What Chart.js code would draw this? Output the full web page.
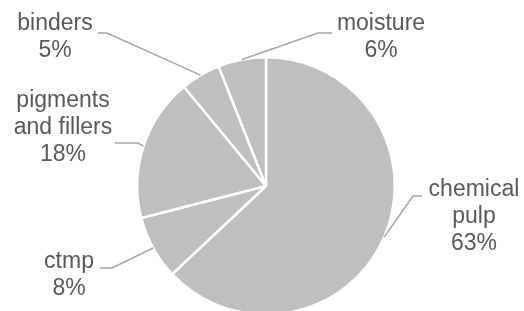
<!DOCTYPE html>
<html><head><meta charset="utf-8">
<script src="https://cdn.jsdelivr.net/npm/chart.js@4"></script>
<style>
html,body{margin:0;padding:0;background:#fff;overflow:hidden;}
#wrap{width:524px;height:316px;position:relative;}
</style></head>
<body><div id="wrap"><canvas id="c"></canvas></div>
<script>
const categories = ["chemical pulp", "ctmp", "pigments and fillers", "binders", "moisture"];
const labelLines = [["chemical", "pulp"], ["ctmp"], ["pigments", "and fillers"], ["binders"], ["moisture"]];
const shares = [63, 8, 18, 5, 6];

// label layout: text center x, first line center y, leader horizontal start/elbow
const labelLayout = [
  {x: 474, y: 190, hx: 422, hy: 196, ex: 413},
  {x: 69,  y: 262, hx: 100, hy: 268, ex: 112},
  {x: 63,  y: 101, hx: 115, hy: 143, ex: 138},
  {x: 55,  y: 24,  hx: 98,  hy: 33,  ex: 107},
  {x: 381, y: 24,  hx: 332, hy: 33,  ex: 318}
];

const outsideLabels = {
  id: 'outsideLabels',
  afterDatasetsDraw(chart) {
    const ctx = chart.ctx;
    const meta = chart.getDatasetMeta(0);
    ctx.save();
    meta.data.forEach((arc, i) => {
      const lay = labelLayout[i];
      const mid = (arc.startAngle + arc.endAngle) / 2;
      const ax = arc.x + Math.cos(mid) * arc.outerRadius;
      const ay = arc.y + Math.sin(mid) * arc.outerRadius;
      ctx.strokeStyle = '#a6a6a6';
      ctx.lineWidth = 1.5;
      ctx.beginPath();
      ctx.moveTo(lay.hx, lay.hy);
      ctx.lineTo(lay.ex, lay.hy);
      ctx.lineTo(ax, ay);
      ctx.stroke();
      ctx.fillStyle = '#595959';
      ctx.font = '23px "Liberation Sans", Arial, sans-serif';
      ctx.textAlign = 'center';
      ctx.textBaseline = 'middle';
      const lines = labelLines[i].concat([shares[i] + '%']);
      lines.forEach((t, k) => ctx.fillText(t, lay.x, lay.y + k * 27));
    });
    ctx.restore();
  }
};

new Chart(document.getElementById('c'), {
  type: 'pie',
  data: {
    labels: categories,
    datasets: [{
      data: shares,
      backgroundColor: '#bfbfbf',
      borderColor: '#ffffff',
      borderWidth: 2.5
    }]
  },
  options: {
    responsive: true,
    maintainAspectRatio: false,
    animation: false,
    layout: {padding: {top: 56, bottom: 0, left: 8, right: 0}},
    plugins: {legend: {display: false}, tooltip: {enabled: false}}
  },
  plugins: [outsideLabels]
});
</script></body></html>
